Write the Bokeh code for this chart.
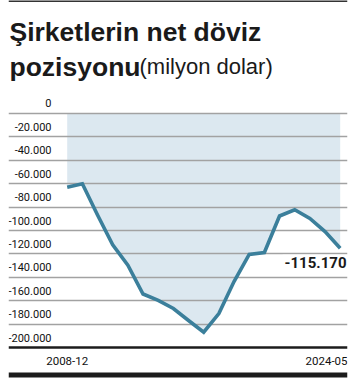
from bokeh.plotting import figure
from bokeh.models import Range1d, FixedTicker, Grid, Span, BoxAnnotation, ColumnDataSource
from bokeh.core.properties import value
from bokeh.embed import file_html
from bokeh.resources import INLINE

# ---- data ----
periods = ["2008-12", "", "", "", "", "", "", "", "", "", "", "", "", "", "", "", "", "", "2024-05"]
values = [-63000, -60100, -86800, -112300, -129700, -154300, -159700, -166700, -176900,
          -186900, -171000, -143600, -120500, -118800, -87600, -82300, -89700, -100900, -115170]
y_ticks = [0, -20000, -40000, -60000, -80000, -100000, -120000, -140000, -160000, -180000, -200000]
y_tick_labels = ["0", "-20.000", "-40.000", "-60.000", "-80.000", "-100.000", "-120.000",
                 "-140.000", "-160.000", "-180.000", "-200.000"]
x_label_first = periods[0]
x_label_last = periods[-1]
last_label = "-115.170"
title_line1 = "Şirketlerin net döviz"
title_line2 = "pozisyonu"
title_unit = "(milyon dolar)"

idx = list(range(len(values)))

W, H = 360, 380
LEFT, RIGHT = 8, 13
x_start, x_end = -3.870, 18.481
y_start, y_end = -228205, 96581

TICK_FONT = value("Roboto")
TITLE_FONT = value("Liberation Sans")

p = figure(width=W, height=H, output_backend="svg", toolbar_location=None,
           x_axis_location=None, y_axis_location=None,
           x_range=Range1d(x_start, x_end), y_range=Range1d(y_start, y_end),
           min_border=0, min_border_left=LEFT, min_border_right=RIGHT,
           min_border_top=0, min_border_bottom=0)
p.title_location = None
p.outline_line_color = None
p.background_fill_color = "white"
p.border_fill_color = "white"
for g in p.grid:
    g.visible = False

# gridlines
grid = Grid(dimension=1, ticker=FixedTicker(ticks=y_ticks[:-1]),
            grid_line_color="#a2a2a2", grid_line_width=1.3)
p.add_layout(grid)

# area fill (below grid)
src = ColumnDataSource(dict(x=idx, y=values, zero=[0] * len(values)))
area = p.varea(x="x", y1="zero", y2="y", source=src, fill_color="#dce8f0")
area.level = "image"

# line
p.line(x="x", y="y", source=src, line_color="#3b7f9b", line_width=3.6, line_join="miter")

# baseline at bottom value
p.add_layout(Span(location=y_ticks[-1], dimension="width", line_color="#1c1c1c", line_width=2.6))

# y tick labels
tick_src = ColumnDataSource(dict(x=[x_start] * len(y_ticks), y=y_ticks, t=y_tick_labels))
p.text(x="x", y="y", text="t", source=tick_src, text_align="right", text_baseline="middle",
       x_offset=43, y_offset=-10, text_font=TICK_FONT,
       text_font_size="11px", text_color="#111111")

# x labels
p.text(x=[idx[0]], y=[y_ticks[-1]], text=[x_label_first], text_align="center",
       text_baseline="middle", y_offset=13, text_font=TICK_FONT,
       text_font_size="11.5px", text_color="#111111")
p.text(x=[x_end], y=[y_ticks[-1]], text=[x_label_last], text_align="right",
       text_baseline="middle", x_offset=0, y_offset=13, text_font=TICK_FONT,
       text_font_size="11.5px", text_color="#111111")

# last value label
p.text(x=[x_end], y=[values[-1]], text=[last_label], text_align="right",
       text_baseline="middle", x_offset=1, y_offset=14,
       text_font=value("Roboto"), text_font_style="bold",
       text_font_size="15px", text_color="#1a1a1a",
       background_fill_color="white", padding=2)

# top rule and bottom bar
p.add_layout(BoxAnnotation(bottom=H - 1.5, top=H + 1, bottom_units="screen", top_units="screen",
                           fill_color="#333333", fill_alpha=1, line_color=None))
p.add_layout(BoxAnnotation(bottom=3, top=8, bottom_units="screen", top_units="screen",
                           fill_color="#1c1c1c", fill_alpha=1, line_color=None))

# title
p.text(x=[x_start], y=[y_end], text=[title_line1], text_align="left", text_baseline="alphabetic",
       x_offset=1, y_offset=31.5, text_font=TITLE_FONT, text_font_style="bold",
       text_font_size="26.5px", text_color="#1a1a1a")
p.text(x=[x_start], y=[y_end], text=[title_line2], text_align="left", text_baseline="alphabetic",
       x_offset=1, y_offset=66, text_font=TITLE_FONT, text_font_style="bold",
       text_font_size="26.5px", text_color="#1a1a1a")
p.text(x=[x_start], y=[y_end], text=[title_unit], text_align="left", text_baseline="alphabetic",
       x_offset=131, y_offset=66, text_font=TITLE_FONT, text_font_style="normal",
       text_font_size="22px", text_color="#1a1a1a")

open("out.html", "w").write(file_html(p, INLINE))
